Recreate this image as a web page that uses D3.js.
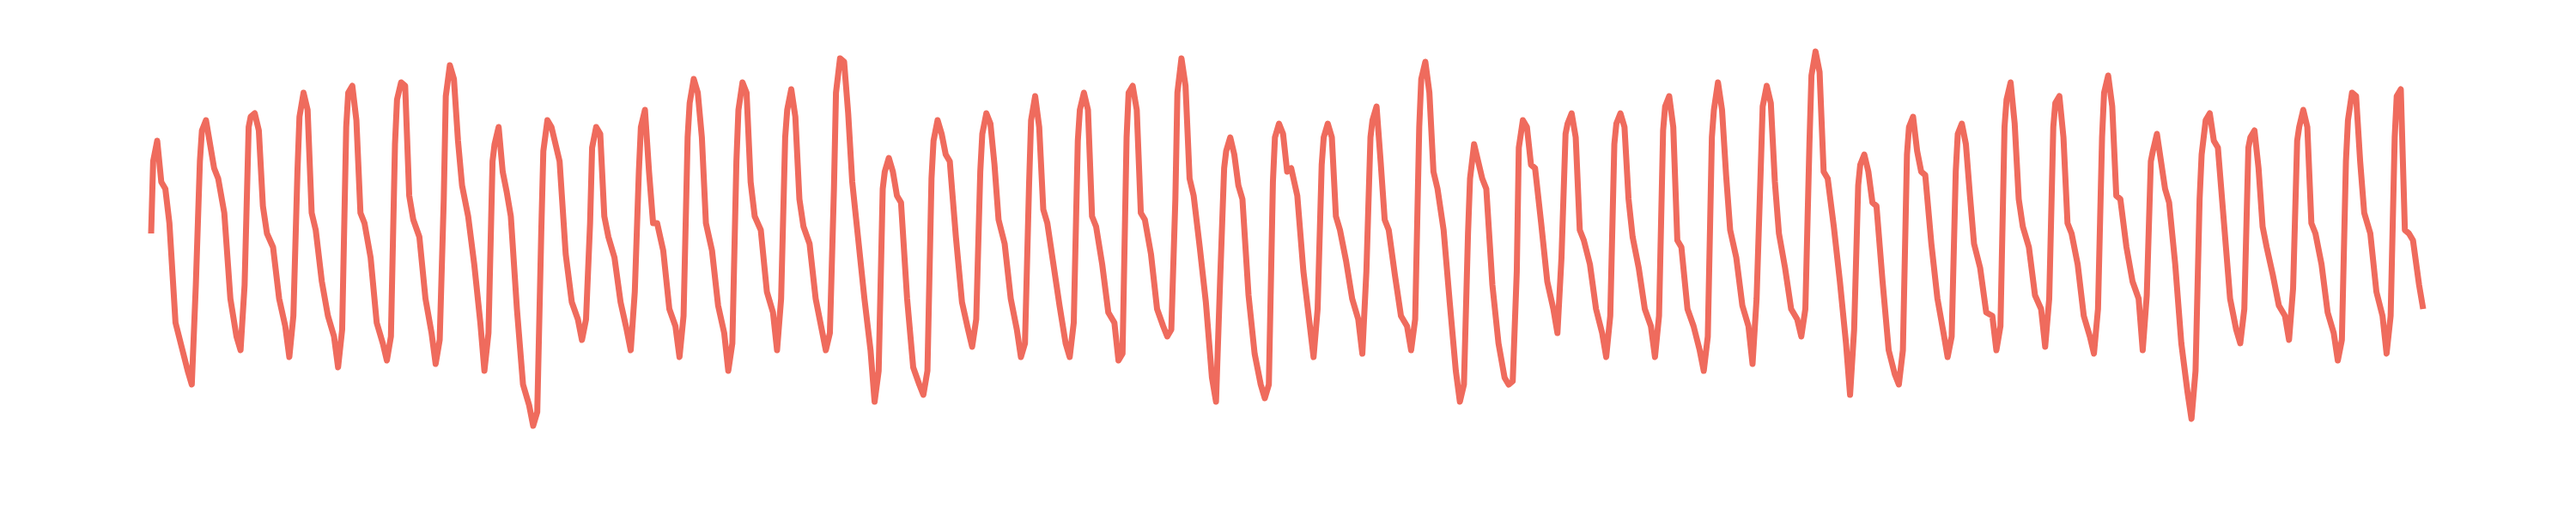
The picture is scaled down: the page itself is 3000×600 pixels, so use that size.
<!DOCTYPE html>
<html><head><meta charset="utf-8">
<script src="https://cdn.jsdelivr.net/npm/d3@7"></script>
<style>html,body{margin:0;padding:0;background:#fff;} svg{display:block;}</style>
</head><body>
<svg id="chart" width="3000" height="600"></svg>
<script>
// hours (relative to each day's trough) at which the readings were taken
const sampleHours = [0, 2, 4, 5, 7, 9, 11, 13, 16, 19, 22];
const firstTroughHour = 20;
// partial first day
const headHours = [0, 1, 3, 5, 7, 9, 12, 15, 18];
const headValues = [62, 83, 89, 77, 75, 65, 36, 29, 22];
// full days
const dailyValues = [
  [18,47,83,92,95,88,81,78,68,43,32],
  [28,47,93,96,97,92,70,62,58,43,35],
  [26,38,80,96,103,98,68,63,48,38,32],
  [23,34,93,103,105,95,68,65,55,36,30],
  [25,32,88,101,106,105,73,66,61,43,33],
  [24,31,72,102,111,107,89,76,67,53,36],
  [22,33,83,88,93,80,74,67,40,18,12],
  [6,10,63,86,95,93,88,83,56,42,37],
  [31,37,65,87,93,91,67,61,55,42,34],
  [28,45,80,93,98,80,65,65,57,40,35],
  [26,38,90,100,107,103,90,65,57,41,33],
  [22,30,83,98,106,103,77,67,63,45,39],
  [28,43,90,98,104,96,72,64,59,43,34],
  [28,33,75,103,113,112,97,77,60,43,28],
  [13,22,75,80,84,80,73,71,43,23,18],
  [15,22,78,89,95,91,85,83,61,42,34],
  [29,37,80,91,97,94,82,66,59,43,34],
  [26,30,76,95,102,93,69,65,53,41,30],
  [26,36,89,98,103,98,67,64,53,39,36],
  [25,27,90,103,105,98,68,66,56,40,35],
  [32,34,72,103,113,105,78,73,58,42,20],
  [13,48,81,86,90,85,76,72,44,27,18],
  [14,18,77,90,94,91,80,81,73,51,36],
  [26,40,82,90,94,90,67,63,54,43,37],
  [27,51,90,95,99,83,66,63,50,38,35],
  [28,37,93,107,112,103,80,75,63,42,22],
  [13,18,62,78,88,83,78,75,47,30,20],
  [18,19,51,87,95,93,82,81,65,48,40],
  [33,55,91,94,97,90,63,60,53,40,33],
  [26,38,88,94,97,93,72,61,52,40,35],
  [26,38,92,99,102,93,60,58,40,35,28],
  [22,32,90,98,106,98,79,63,55,41,35],
  [24,43,80,99,105,100,77,62,52,40,37],
  [32,40,88,108,115,109,80,78,64,48,30],
  [15,34,76,82,85,80,71,70,48,28,21],
  [18,28,85,93,96,86,80,79,59,43,33],
  [26,32,80,91,94,88,73,59,52,39,38],
  [28,35,93,101,106,94,72,64,58,44,40],
  [29,43,93,100,102,90,65,62,53,38,32],
  [27,40,90,103,108,99,73,72,58,48,43],
  [28,44,83,86,91,83,75,71,53,30,16],
  [8,22,72,85,95,97,89,87,65,43,34],
  [30,40,87,90,92,81,64,58,50,41,38],
  [31,46,89,93,98,93,65,62,53,39,33],
  [25,31,83,95,103,102,83,68,62,45,38]
];
// partial last day
const tailHours = [0, 2, 4, 5, 7, 9, 11, 13, 16, 18];
const tailValues = [27, 38, 90, 102, 104, 63, 62, 60, 47, 40];

const points = [];
headHours.forEach((h, i) => points.push([h, headValues[i]]));
dailyValues.forEach((row, d) => row.forEach((v, i) => points.push([firstTroughHour + 24 * d + sampleHours[i], v])));
const tailStart = firstTroughHour + 24 * dailyValues.length;
tailHours.forEach((h, i) => points.push([tailStart + h, tailValues[i]]));

const lastHour = points[points.length - 1][0];
const x = d3.scaleLinear().domain([0, lastHour]).range([176, 2822]);
const y = d3.scaleLinear().domain([0, 120]).range([520, 40]);

const line = d3.line().x(d => x(d[0])).y(d => y(d[1]));

d3.select('#chart').append('path')
  .datum(points)
  .attr('d', line)
  .attr('fill', 'none')
  .attr('stroke', '#ef6b5d')
  .attr('stroke-width', 7)
  .attr('stroke-linejoin', 'round')
  .attr('stroke-linecap', 'butt');
</script>
</body></html>
